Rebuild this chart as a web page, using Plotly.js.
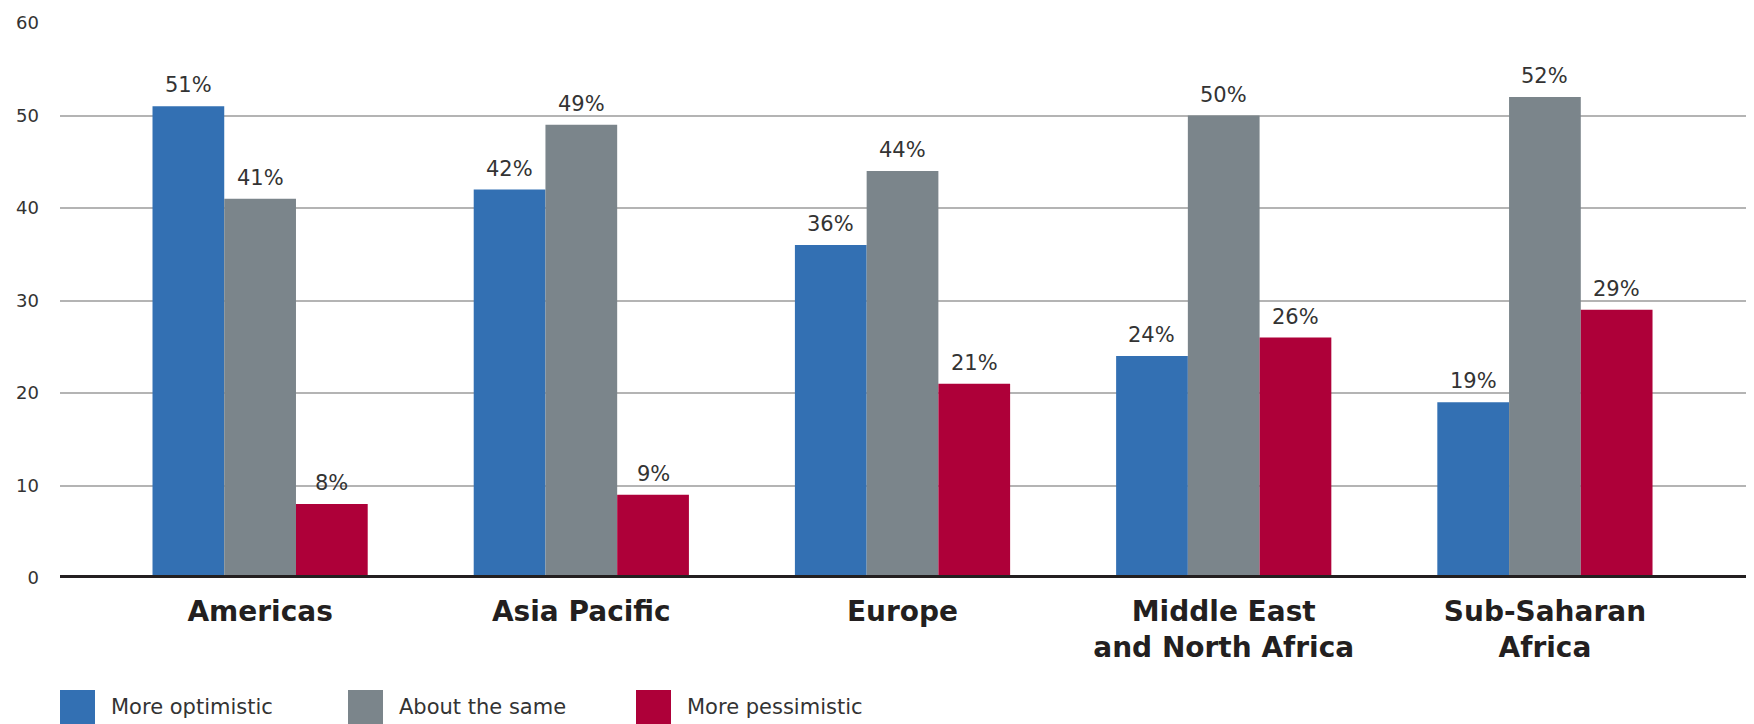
<!DOCTYPE html>
<html>
<head>
<meta charset="utf-8">
<script src="https://cdn.plot.ly/plotly-3.0.1.min.js"></script>
<style>
html,body{margin:0;padding:0;background:#fff;}
#chart{width:1754px;height:724px;}
</style>
</head>
<body>
<div id="chart"></div>
<script>
// ---- data ----
var categories = ["Americas", "Asia Pacific", "Europe", "Middle East<br>and North Africa", "Sub-Saharan<br>Africa"];
var seriesNames = ["More optimistic", "About the same", "More pessimistic"];
var moreOptimistic = [51, 42, 36, 24, 19];
var aboutTheSame = [41, 49, 44, 50, 52];
var morePessimistic = [8, 9, 21, 26, 29];
var yTickValues = [0, 10, 20, 30, 40, 50, 60];
var yTickLabels = ["0", "10", "20", "30", "40", "50", "60"];

// ---- styles ----
var colors = ["#3370b3", "#7b858b", "#ae0039"];
var W = 1754, H = 724;
var M = {l: 60, r: 8, t: 23, b: 146};
var plotW = W - M.l - M.r, plotH = H - M.t - M.b;
var xRange = [-0.623, 4.626];
var bargap = 0.33;
function px2paperX(px){ return (px - M.l) / plotW; }
function px2paperY(py){ return (H - M.b - py) / plotH; }

var allSeries = [moreOptimistic, aboutTheSame, morePessimistic];
var traces = allSeries.map(function(vals, i){
  return {
    type: "bar",
    name: seriesNames[i],
    x: categories,
    y: vals,
    marker: {color: colors[i], line: {width: 0}},
    hoverinfo: "skip"
  };
});

var shapes = [];
var annotations = [];

// value labels above bars (data coordinates, pixel offset to each bar in group)
var catPx = plotW / (xRange[1] - xRange[0]);
var barPx = catPx * (1 - bargap) / allSeries.length;
allSeries.forEach(function(vals, i){
  vals.forEach(function(v, j){
    annotations.push({
      xref: "x", yref: "y", x: categories[j], y: v,
      xshift: (i - (allSeries.length - 1) / 2) * barPx,
      yshift: 7,
      xanchor: "center", yanchor: "bottom",
      text: v + "%", showarrow: false,
      font: {family: "DejaVu Sans", size: 21, color: "#333333"}
    });
  });
});

// custom legend (large squares)
var legendX = [60, 348, 636];
seriesNames.forEach(function(n, i){
  shapes.push({
    type: "rect", xref: "paper", yref: "paper",
    x0: px2paperX(legendX[i]), x1: px2paperX(legendX[i] + 35),
    y0: px2paperY(690), y1: px2paperY(726),
    fillcolor: colors[i], line: {width: 0}
  });
  annotations.push({
    xref: "paper", yref: "paper",
    x: px2paperX(legendX[i] + 49), y: px2paperY(707),
    xanchor: "left", yanchor: "middle",
    text: n, showarrow: false,
    font: {family: "DejaVu Sans", size: 21, color: "#333333"}
  });
});
// baseline (thick axis line at zero)
shapes.push({
  type: "line", xref: "paper", yref: "y",
  x0: 0, x1: 1, y0: 0, y1: 0,
  line: {color: "#231f20", width: 6}, layer: "above"
});

var layout = {
  width: W, height: H,
  margin: M,
  paper_bgcolor: "#ffffff", plot_bgcolor: "#ffffff",
  barmode: "group",
  bargap: bargap,
  bargroupgap: 0,
  showlegend: false,
  font: {family: "DejaVu Sans", color: "#333333"},
  xaxis: {
    type: "category",
    range: xRange,
    showgrid: false, zeroline: false, showline: false,
    ticks: "",
    ticklabelstandoff: 14,
    tickfont: {family: "DejaVu Sans", size: 28, color: "#231f20", weight: "bold"}
  },
  yaxis: {
    range: [0, 60],
    tickvals: yTickValues,
    ticktext: yTickLabels,
    showgrid: true, gridcolor: "#b4b4b4", gridwidth: 2,
    zeroline: false, showline: false,
    ticks: "",
    ticklabelstandoff: 20,
    tickfont: {family: "DejaVu Sans", size: 18, color: "#333333"}
  },
  shapes: shapes,
  annotations: annotations
};

Plotly.newPlot("chart", traces, layout, {displayModeBar: false, staticPlot: true});
</script>
</body>
</html>
